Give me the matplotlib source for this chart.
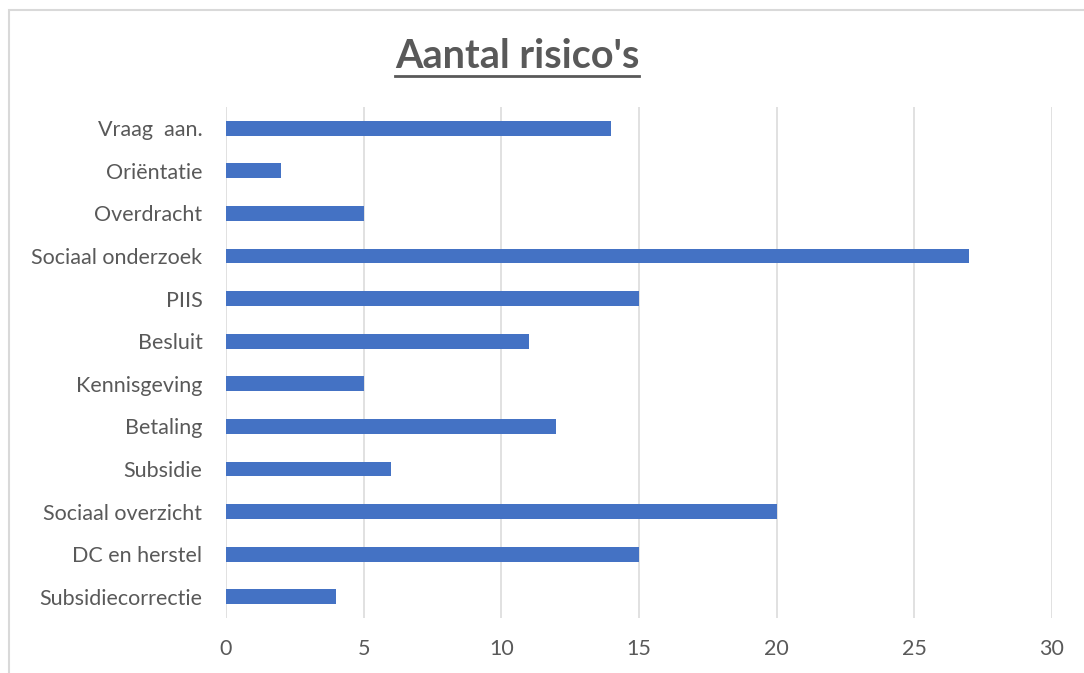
import matplotlib.pyplot as plt
from matplotlib.patches import Rectangle
import numpy as np

categories = ['Vraag  aan.', 'Oriëntatie', 'Overdracht', 'Sociaal onderzoek', 'PIIS',
              'Besluit', 'Kennisgeving', 'Betaling', 'Subsidie', 'Sociaal overzicht',
              'DC en herstel', 'Subsidiecorrectie']
values = [14, 2, 5, 27, 15, 11, 5, 12, 6, 20, 15, 4]
xticks = [0, 5, 10, 15, 20, 25, 30]

text_color = '#595959'
bar_color = '#4472C4'
grid_color = '#d9d9d9'

plt.rcParams['font.family'] = ['Lato', 'DejaVu Sans']

fig = plt.figure(figsize=(10.84, 6.73), dpi=100)
ax = fig.add_axes([226 / 1084, 1 - 618 / 673, 826 / 1084, 511 / 673])

pos = np.arange(len(categories))
ax.barh(pos, values, height=0.35, color=bar_color, zorder=3)
ax.set_ylim(len(categories) - 0.5, -0.5)
ax.set_yticks(pos)
ax.set_yticklabels(categories)
ax.set_xlim(0, 30)
ax.set_xticks(xticks)
ax.set_xticklabels([str(t) for t in xticks])

ax.grid(axis='x', color=grid_color, linewidth=1.1, zorder=0)
for s in ax.spines.values():
    s.set_visible(False)
ax.tick_params(axis='both', length=0, labelsize=15.5, colors=text_color)
ax.tick_params(axis='y', pad=17)
ax.tick_params(axis='x', pad=15)

# titel met onderstreping
t = fig.text(517 / 1084, 1 - 56 / 673, "Aantal risico's", ha='center', va='center',
             fontsize=28.5, fontweight='bold', color=text_color)
fig.canvas.draw()
bb = t.get_window_extent()
y_line = bb.y0 - 1
fig.add_artist(plt.Line2D([bb.x0 / 1084, bb.x1 / 1084], [y_line / 673, y_line / 673],
                          transform=fig.transFigure, color=text_color, linewidth=2))

# kader van de grafiek
fig.add_artist(Rectangle((9 / 1084, -0.1), 1.2, 1 - 10 / 673 + 0.1, transform=fig.transFigure,
                         fill=False, edgecolor=grid_color, linewidth=1.5))

fig.savefig('out.png', dpi=100)
